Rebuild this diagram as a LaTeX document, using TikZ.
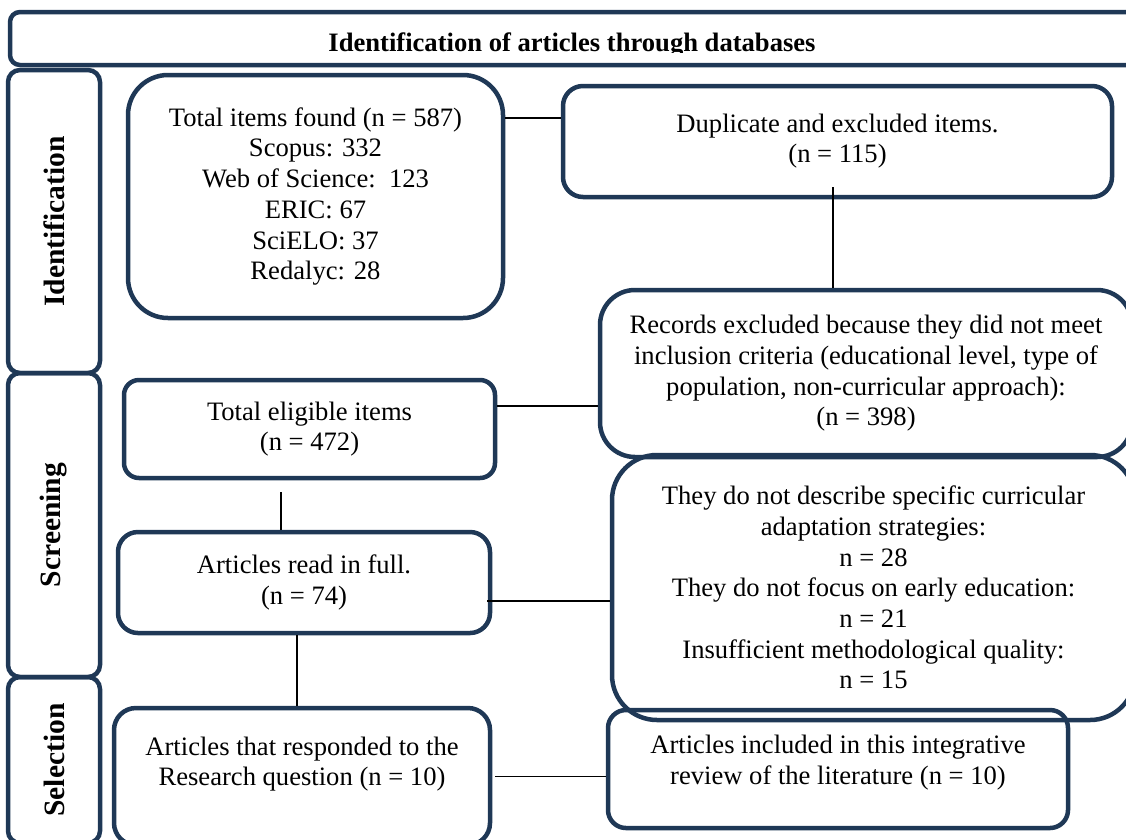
\documentclass[tikz,border=0pt]{standalone}
\usepackage{fontspec}
\usepackage{graphicx}
\setmainfont{Liberation Serif}
\definecolor{navy}{RGB}{31,56,86}
\begin{document}
\begin{tikzpicture}[x=1pt,y=-1pt,
  box/.style={draw=navy, line width=4.5pt, align=center, inner sep=0pt,
    font=\fontsize{26.6}{30.7}\selectfont},
  side/.style={draw=navy, line width=4.5pt, rounded corners=12pt,
    minimum width=92pt, inner sep=0pt, font=\fontsize{29.5}{32}\selectfont\bfseries},
  link/.style={draw=black, line width=1.6pt}]
\useasboundingbox (0,0) rectangle (1126,839);
\clip (0,0) rectangle (1126,839);
% banner
\node[draw=navy, line width=4.5pt, rounded corners=10pt, minimum width=1130pt,
  minimum height=53pt, inner sep=0pt] (banner) at (575,38.5) {};
\begin{scope}
  \clip (0,0) rectangle (1126,52);
  \node[anchor=base, inner sep=0pt, font=\fontsize{26.6}{30}\selectfont\bfseries]
    (bannertext) at (572,51) {Identification of articles through databases};
\end{scope}
% side columns
\node[side, minimum height=303pt] (idcol) at (54,221.5) {\rotatebox{90}{Identification}};
\node[side, minimum height=304pt] (scrcol) at (54,525) {\rotatebox{90}{Screening}};
\node[side, minimum height=166pt] (selcol) at (54,760) {\rotatebox{90}{Selection}};
% boxes
\node[box, rounded corners=40pt, minimum width=375pt, minimum height=243pt] (total)
  at (315.5,196.5) {Total items found (n = 587)\\Scopus: 332\\Web of Science:\ \ 123\\ERIC: 67\\SciELO: 37\\Redalyc: 28};
\node[box, rounded corners=20pt, minimum width=549pt, minimum height=111pt] (dup)
  at (837.5,141.5) {Duplicate and excluded items.\\(n = 115)\\[-24pt]\mbox{}};
\node[box, rounded corners=35pt, minimum width=532pt, minimum height=167pt] (rec)
  at (866,373.5) {Records excluded because they did not meet\\inclusion criteria (educational level, type of\\population, non-curricular approach):\\(n = 398)};
\node[box, rounded corners=15pt, minimum width=371pt, minimum height=98pt] (elig)
  at (309.5,429) {Total eligible items\\(n = 472)};
\node[box, rounded corners=20pt, minimum width=372pt, minimum height=101pt] (read)
  at (304,582.5) {Articles read in full.\\(n = 74)};
\node[box, rounded corners=45pt, minimum width=523pt, minimum height=265pt] (they)
  at (873.5,587.5) {They do not describe specific curricular\\adaptation strategies:\\n = 28\\They do not focus on early education:\\n = 21\\Insufficient methodological quality:\\n = 15};
\node[box, rounded corners=22pt, minimum width=376pt, minimum height=137pt] (resp)
  at (302,776.5) {Articles that responded to the\\Research question (n = 10)\\\mbox{}};
\node[box, rounded corners=18pt, minimum width=460pt, minimum height=118pt] (incl)
  at (838,769) {Articles included in this integrative\\review of the literature (n = 10)\\[-12pt]\mbox{}};
% connectors
\draw[link] ([yshift=78.5pt]total.east) -- ([yshift=78.5pt]total.east -| dup.west);
\draw[link] ([xshift=-4.5pt,yshift=12pt]dup.south) -- ([xshift=-4.5pt]dup.south |- rec.north);
\draw[link] ([yshift=23pt]elig.east) -- ([yshift=23pt]elig.east -| rec.west);
\draw[link] ([xshift=-28.5pt,yshift=-12pt]elig.south) -- ([xshift=-28.5pt]elig.south |- read.north);
\draw[link] ([xshift=-5pt,yshift=-18.5pt]read.east) -- ([yshift=-18.5pt]read.east -| they.west);
\draw[link] ([xshift=-7pt]read.south) -- ([xshift=-7pt]read.south |- resp.north);
\draw[link] ([xshift=3pt]resp.east) -- (resp.east -| incl.west);
\end{tikzpicture}
\end{document}
